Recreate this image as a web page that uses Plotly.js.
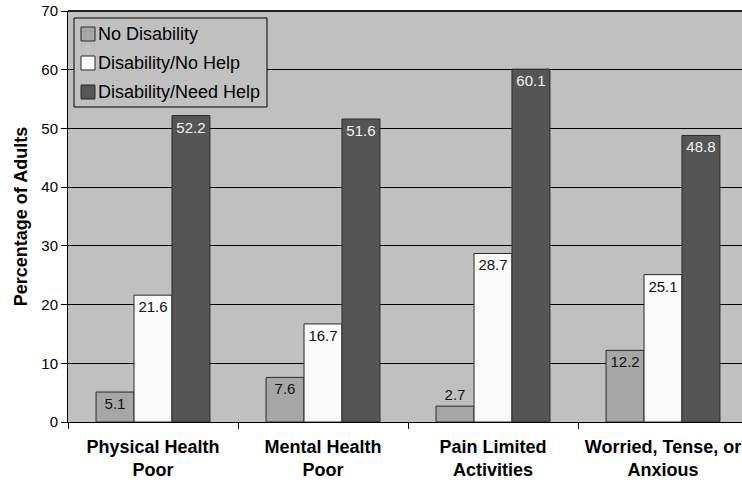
<!DOCTYPE html>
<html>
<head>
<meta charset="utf-8">
<script src="https://cdn.plot.ly/plotly-3.0.1.min.js"></script>
<style>
  html, body { margin: 0; padding: 0; background: #ffffff; overflow: hidden; }
  #chart { width: 742px; height: 483px; }
</style>
</head>
<body>
<div id="chart"></div>
<script>
// Health status of adults by disability and need for help (percent)
var categories = [
  "Physical Health<br>Poor",
  "Mental Health<br>Poor",
  "Pain Limited<br>Activities",
  "Worried, Tense, or<br>Anxious"
];
var seriesNames = ["No Disability", "Disability/No Help", "Disability/Need Help"];
var noDisability = [5.1, 7.6, 2.7, 12.2];
var disabilityNoHelp = [21.6, 16.7, 28.7, 25.1];
var disabilityNeedHelp = [52.2, 51.6, 60.1, 48.8];
var yTicks = [0, 10, 20, 30, 40, 50, 60, 70];

var FONT = "Liberation Sans, Arial, Helvetica, sans-serif";
var fills = ["#a6a6a6", "#fafafa", "#555555"];
var labelColors = ["#111111", "#111111", "#f2f2f2"];
var values = [noDisability, disabilityNoHelp, disabilityNeedHelp];

var traces = values.map(function (vals, i) {
  return {
    type: "bar",
    name: seriesNames[i],
    x: categories,
    y: vals,
    marker: { color: fills[i], line: { color: "#2b2b2b", width: 1 } },
    texttemplate: "%{y:.1f}",
    textposition: "auto",
    insidetextanchor: "end",
    constraintext: "none",
    insidetextfont: { family: FONT, size: 15, color: labelColors[i] },
    outsidetextfont: { family: FONT, size: 15, color: "#111111" },
    cliponaxis: false,
    showlegend: false,
    hoverinfo: "x+y+name"
  };
});

// plot area in pixels; the last group runs off the right edge
var W = 742, H = 483;
var plotLeft = 68, plotRight = 742, plotTop = 11, plotBottom = 422, catWidth = 170;
var xMax = -0.5 + (plotRight - plotLeft) / catWidth;

function px(x) { return (x - plotLeft) / (plotRight - plotLeft); }
function py(y) { return (plotBottom - y) / (plotBottom - plotTop); }

// boxed key in the upper-left corner of the plot
var keyBox = { left: 74, right: 267, top: 18, bottom: 107 };
var keyRowY = [34, 63, 92];
var keySwatch = 14, keySwatchLeft = 81, keyTextLeft = 96;

var shapes = [
  { type: "line", xref: "paper", yref: "paper", x0: 0, x1: 1, y0: 1, y1: 1,
    line: { color: "#222222", width: 2 } },
  { type: "rect", xref: "paper", yref: "paper", layer: "above",
    x0: px(keyBox.left), x1: px(keyBox.right), y0: py(keyBox.bottom), y1: py(keyBox.top),
    fillcolor: "#c0c0c0", line: { color: "#000000", width: 1 } }
];
var annotations = [];
seriesNames.forEach(function (name, i) {
  var cy = keyRowY[i];
  shapes.push({
    type: "rect", xref: "paper", yref: "paper", layer: "above",
    x0: px(keySwatchLeft), x1: px(keySwatchLeft + keySwatch),
    y0: py(cy + keySwatch / 2), y1: py(cy - keySwatch / 2),
    fillcolor: fills[i], line: { color: "#2b2b2b", width: 1 }
  });
  annotations.push({
    xref: "paper", yref: "paper", x: px(keyTextLeft), y: py(cy),
    xanchor: "left", yanchor: "middle", showarrow: false,
    text: name, font: { family: FONT, size: 18, color: "#000000" }
  });
});

var layout = {
  width: W,
  height: H,
  margin: { l: plotLeft, r: W - plotRight, t: plotTop, b: H - plotBottom },
  paper_bgcolor: "#ffffff",
  plot_bgcolor: "#c0c0c0",
  barmode: "group",
  bargap: 0.33,
  bargroupgap: 0,
  font: { family: FONT, color: "#000000" },
  showlegend: false,
  xaxis: {
    type: "category",
    range: [-0.5, xMax],
    showgrid: false,
    showline: true, linecolor: "#000000", linewidth: 1,
    ticks: "outside", ticklen: 6, tickcolor: "#000000",
    tickson: "boundaries",
    tickfont: { family: FONT, size: 18, color: "#000000", weight: "bold" },
    ticklabelstandoff: 8,
    fixedrange: true
  },
  yaxis: {
    range: [0, 70],
    tickvals: yTicks,
    ticktext: yTicks.map(String),
    showgrid: true, gridcolor: "#000000", gridwidth: 1,
    zeroline: false,
    showline: true, linecolor: "#000000", linewidth: 1,
    ticks: "outside", ticklen: 6, tickcolor: "#000000",
    tickfont: { family: FONT, size: 15, color: "#000000" },
    title: {
      text: "<b>Percentage of Adults</b>",
      font: { family: FONT, size: 18, color: "#000000" },
      standoff: 9
    },
    fixedrange: true
  },
  shapes: shapes,
  annotations: annotations
};

Plotly.newPlot("chart", traces, layout, { displayModeBar: false, staticPlot: true });
</script>
</body>
</html>
